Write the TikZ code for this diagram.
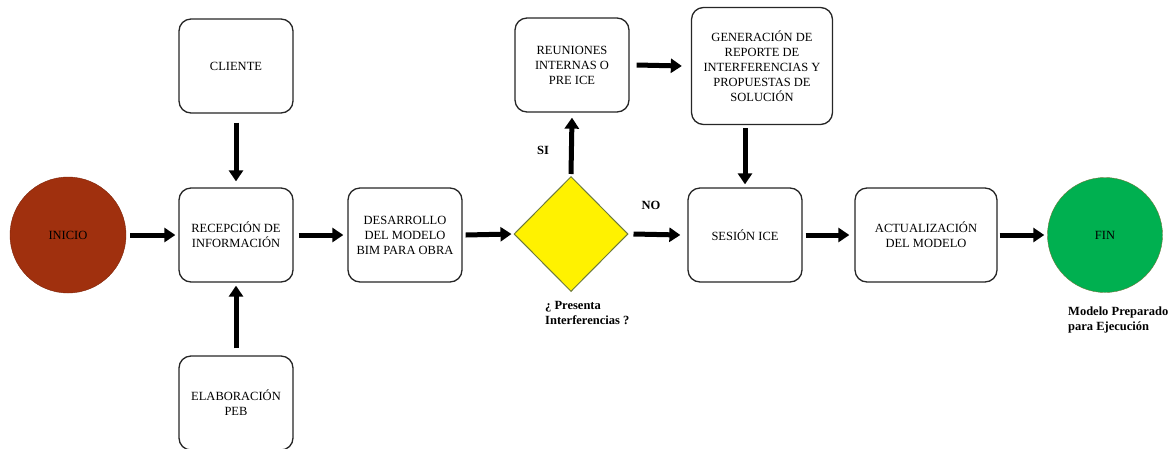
\documentclass[tikz,border=0pt]{standalone}
\usepackage{fontspec}
\setmainfont{Liberation Serif}
\usetikzlibrary{%
	arrows.meta,%
	shapes.geometric%
}
\definecolor{inicioRed}{HTML}{A0300E}
\definecolor{finGreen}{HTML}{00B050}
\definecolor{olive}{HTML}{6E7A3C}

\begin{document}
\begin{tikzpicture}[x=1pt,y=-1pt,
	box/.style={draw=black!85,line width=1.3pt,rounded corners=12pt,fill=white,
		minimum width=114pt,minimum height=94pt,inner sep=2pt,align=center,font=\fontsize{12.5}{15}\selectfont},
	flow/.style={line width=5pt,-{Triangle[length=11pt,width=14pt]}},
	note/.style={font=\fontsize{12.5}{15}\selectfont\bfseries,align=left,inner sep=0pt}]
\useasboundingbox (0,0) rectangle (1175,448);

% Start and end
\node [circle,draw=inicioRed!80!black,fill=inicioRed,minimum size=116pt,inner sep=0pt,font=\fontsize{12.5}{15}\selectfont] (inicio) at (68,235) {INICIO};
\node [circle,draw=olive,fill=finGreen,minimum size=115pt,inner sep=0pt,font=\fontsize{12.5}{15}\selectfont] (fin) at (1105,235) {FIN};

% Boxes
\node [box] (cliente) at (236,66) {CLIENTE};
\node [box] (recep) at (236,235) {RECEPCIÓN DE\\INFORMACIÓN};
\node [box] (peb) at (236,403) {ELABORACIÓN\\PEB};
\node [box] (desarrollo) at (405,235) {DESARROLLO\\DEL MODELO\\BIM PARA OBRA};
\node [box] (reuniones) at (572,65) {REUNIONES\\INTERNAS O\\PRE ICE};
\node [box,minimum width=141pt,minimum height=117pt] (reporte) at (762,66) {GENERACIÓN DE\\REPORTE DE\\INTERFERENCIAS Y\\PROPUESTAS DE\\SOLUCIÓN};
\node [box] (sesion) at (745,235) {SESIÓN ICE};
\node [box,minimum width=142pt] (actual) at (926,235) {ACTUALIZACIÓN\\DEL MODELO};

% Decision
\node [diamond,draw=olive,line width=1pt,fill=yellow,minimum width=114pt,minimum height=115pt,inner sep=0pt] (decision) at (571,234) {};

% Arrows
\draw [flow] ([xshift=4pt]inicio.east) -- ([xshift=-3pt]recep.west);
\draw [flow] ([yshift=-9pt]cliente.south) -- ([yshift=6pt]recep.north);
\draw [flow] ([yshift=7pt]peb.north) -- ([yshift=-3pt]recep.south);
\draw [flow] ([xshift=5pt]recep.east) -- ([xshift=-4pt]desarrollo.west);
\draw [flow] ([xshift=3pt]desarrollo.east) -- ([xshift=-2pt]decision.west);
\draw [flow] ([yshift=2pt]decision.north) -- ([yshift=-5pt]reuniones.south);
\draw [flow] ([xshift=5pt]decision.east) -- ([xshift=-7pt]sesion.west);
\draw [flow] ([xshift=7pt]reuniones.east) -- ([xshift=-9pt]reporte.west);
\draw [flow,shorten <=3pt,shorten >=3pt] (sesion.north |- reporte.south) -- (sesion.north);
\draw [flow] ([xshift=3pt]sesion.east) -- ([xshift=-5pt]actual.west);
\draw [flow] ([xshift=2pt]actual.east) -- ([xshift=-3pt]fin.west);

% Labels
\node [note] (si) at (543,150) {SI};
\node [note] (no) at (651,205) {NO};
\node [note,anchor=north west] (pregunta) at (545,301) {¿ Presenta\\Interferencias ?};
\node [note,anchor=north west] (listo) at (1068,307) {Modelo Preparado\\para Ejecución};
\end{tikzpicture}
\end{document}
